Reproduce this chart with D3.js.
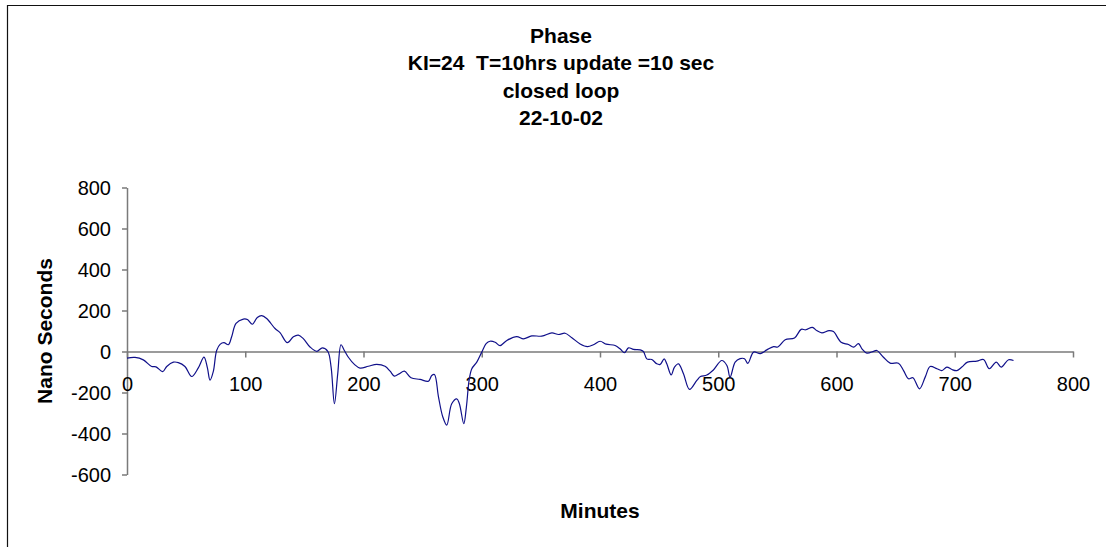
<!DOCTYPE html>
<html>
<head>
<meta charset="utf-8">
<script src="https://cdn.jsdelivr.net/npm/d3@7"></script>
<style>
    body { margin: 0; background: #fff; }
    svg { display: block; }
    .axis path, .axis line { stroke: #7a7a7a; stroke-width: 1.5; }
    .axis text { fill: #000; font-family: Arial, "Liberation Sans", sans-serif; font-size: 20px; }
    .title { font-family: Arial, "Liberation Sans", sans-serif; font-weight: bold; font-size: 21px; white-space: pre; }
</style>
</head>
<body>
<svg id="chart" width="1106" height="547"></svg>
<script>
// values
var titleLines = ["Phase", "KI=24  T=10hrs update =10 sec", "closed loop", "22-10-02"];
var xTicks = [0, 100, 200, 300, 400, 500, 600, 700, 800];
var yTicks = [-600, -400, -200, 0, 200, 400, 600, 800];

var minutes = [
    0, 6.8, 13.8, 20.9, 24.5, 30.2, 33.6, 39.2, 43.4, 49, 54.7, 60.3, 65.1, 68, 70.2, 73, 75.8, 78.7, 82, 85.7,
    88.5, 92.2, 98.4, 101.8, 106, 110.2, 113.9, 118.1, 125.2, 129.4, 135.6, 140.7, 144.9, 149.1, 154.8, 160.5,
    165.2, 169.8, 172.6, 175.4, 178.2, 181, 183.8, 187.2, 192.3, 197.1, 204.1, 211.2, 218.2, 222.5, 226.1, 230.1,
    234.6, 240.2, 247.8, 254.9, 257.7, 260, 263.4, 267, 270.4, 274.6, 278.9, 281.1, 284.8, 287, 289.3, 291.6,
    295.8, 300, 303.7, 307, 311.3, 315.5, 321.2, 329.6, 335.3, 342.3, 350.8, 359.3, 364.9, 370.5, 376.2, 383.2,
    389.4, 394.4, 400.1, 405.2, 412.8, 417, 420.7, 424.1, 428.3, 434, 436.7, 439.6, 443.8, 448, 450.9, 454.3,
    456.5, 460.2, 463, 466.4, 470.6, 475.7, 481.9, 485, 490.3, 495.9, 503, 507.3, 510, 514.3, 518.5, 522.2,
    525, 529.9, 535.6, 541.1, 546.8, 550.4, 556.6, 564.5, 570.1, 574, 579.6, 583.3, 587.6, 593.7, 597.4, 603.9,
    610.1, 614.4, 618.6, 621.5, 625.7, 631.4, 634.1, 639.7, 645.4, 652.4, 656.7, 660.9, 664.6, 670.2, 675, 679.2,
    684.9, 689.1, 693.3, 697.6, 701.8, 706, 710.8, 718.7, 724.3, 729.2, 735.1, 739.3, 745.5, 749.7
];
var phase = [
    -32, -29, -41, -73, -75, -98, -73, -52, -54, -73, -122, -80, -27, -80, -140, -97, 5, 35, 43, 33,
    72, 137, 158, 156, 133, 166, 175, 161, 112, 92, 43, 72, 80, 63, 22, 1,
    18, 1, -76, -255, -109, 33, 5, -28, -63, -81, -72, -63, -72, -96, -120, -109,
    -96, -128, -136, -145, -117, -112, -221, -318, -359, -255, -231, -255, -352, -271, -141, -84,
    -52, -3, 38, 50, 45, 29, 54, 73, 62, 76, 75, 91, 83, 89, 67, 37,
    24, 33, 50, 36, 29, 13, -6, 18, 10, 8, 0, -36, -39, -60, -63, -36,
    -60, -114, -76, -60, -109, -185, -141, -122, -115, -90, -44, -68, -125, -52, -35, -35,
    -58, -3, -10, 8, 24, 22, 57, 66, 108, 106, 118, 102, 91, 102, 97, 45,
    34, 21, 38, 13, -8, 1, 5, -28, -57, -57, -93, -133, -128, -182, -125, -73,
    -84, -93, -76, -88, -93, -76, -52, -47, -39, -84, -52, -76, -40, -44
];

var svg = d3.select("#chart");

var x = d3.scaleLinear().domain([0, 800]).range([127, 1073]);
var y = d3.scaleLinear().domain([-600, 800]).range([474.5, 187.5]);

// plain hyphen for negatives, like the original
var plain = function (d) {
    return String(d);
};

// chart area border (clipped at right and bottom like the original)
svg.append("path")
    .attr("d", "M7.5,547V5.5H1106")
    .attr("fill", "none")
    .attr("stroke", "#111")
    .attr("stroke-width", 1.2);

// title
svg.append("g")
    .selectAll("text")
    .data(titleLines)
    .enter()
    .append("text")
    .attr("class", "title")
    .attr("xml:space", "preserve")
    .attr("x", 561)
    .attr("y", function (d, i) {
        return 42.6 + i * 27.6;
    })
    .attr("text-anchor", "middle")
    .text(function (d) {
        return d;
    });

// y axis
svg.append("g")
    .attr("class", "axis")
    .attr("transform", "translate(" + x(0) + ",0)")
    .call(d3.axisLeft(y).tickValues(yTicks).tickFormat(plain).tickSize(5).tickSizeOuter(0).tickPadding(11))
    .call(function (g) {
        g.selectAll("text").attr("dy", "0.35em");
    });

// x axis crosses at zero
svg.append("g")
    .attr("class", "axis")
    .attr("transform", "translate(0," + y(0) + ")")
    .call(d3.axisBottom(x).tickValues(xTicks).tickFormat(plain).tickSize(6).tickSizeOuter(0).tickPadding(19));

// phase line
var line = d3
    .line()
    .x(function (d) {
        return x(d[0]);
    })
    .y(function (d) {
        return y(d[1]);
    })
    .curve(d3.curveCatmullRom.alpha(0.5));

svg.append("path")
    .datum(d3.zip(minutes, phase))
    .attr("fill", "none")
    .attr("stroke", "#10108a")
    .attr("stroke-width", 1.2)
    .attr("d", line);

// axis titles
svg.append("text")
    .attr("class", "title")
    .attr("x", 600)
    .attr("y", 518)
    .attr("text-anchor", "middle")
    .text("Minutes");

svg.append("text")
    .attr("class", "title")
    .attr("transform", "translate(52,331) rotate(-90)")
    .attr("text-anchor", "middle")
    .text("Nano Seconds");
</script>
</body>
</html>
